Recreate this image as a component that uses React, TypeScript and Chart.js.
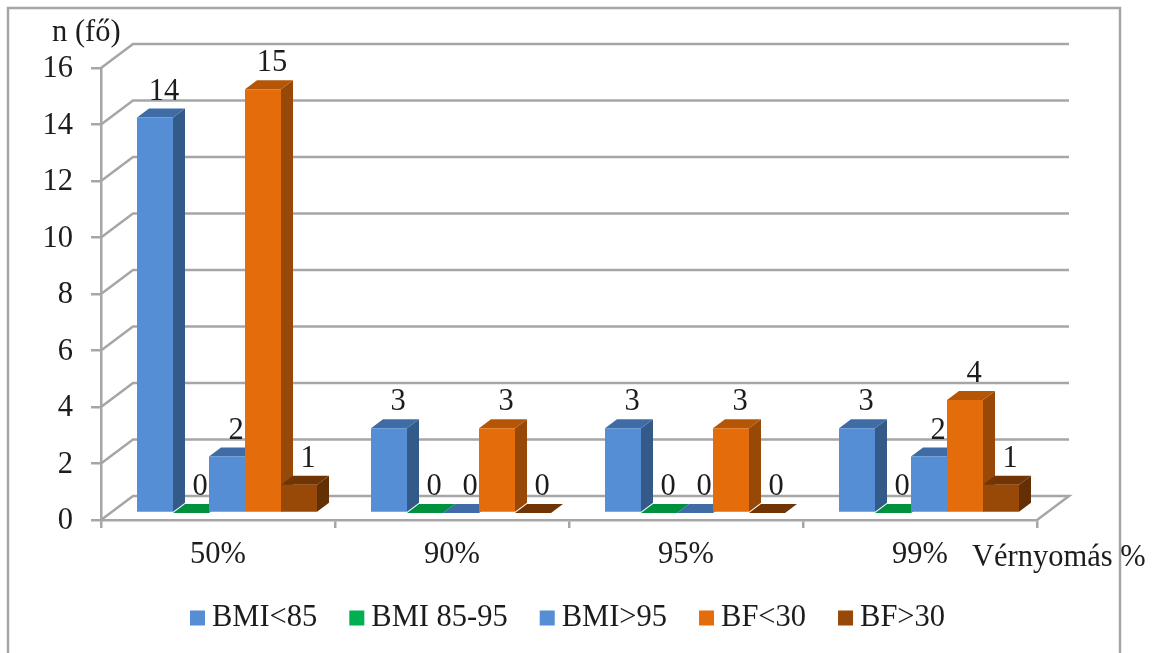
import React, { useEffect, useRef } from "react";
import { Chart, registerables } from "chart.js";

Chart.register(...registerables);

// Series values per blood pressure percentile
const categories = ["50%", "90%", "95%", "99%"];
const bmiUnder85 = [14, 3, 3, 3];
const bmi85to95 = [0, 0, 0, 0];
const bmiOver95 = [2, 0, 0, 2];
const bfUnder30 = [15, 3, 3, 4];
const bfOver30 = [1, 0, 0, 1];
const seriesNames = ["BMI<85", "BMI 85-95", "BMI>95", "BF<30", "BF>30"];
const yAxisTitle = "n (fő)";
const xAxisTitle = "Vérnyomás %";

const FONT_FAMILY = "'Liberation Serif', serif";
const FONT_SIZE = 30.5;
const TEXT_COLOR = "#1c1c1c";
const GRID_COLOR = "#a6a6a6";

// Front, side and top face colours, plus the legend swatch
const blueFaces = { front: "#558ed5", side: "#345a8a", top: "#3f6ca5", key: "#558ed5" };
const greenFaces = { front: "#00b050", side: "#006b30", top: "#00913f", key: "#00b050" };
const orangeFaces = { front: "#e46c0a", side: "#984807", top: "#b55607", key: "#e46c0a" };
const brownFaces = { front: "#984807", side: "#632f04", top: "#713505", key: "#984807" };
const faces = [blueFaces, greenFaces, blueFaces, orangeFaces, brownFaces];

// Projection of the 3D look: wall depth, bar placement in the box, bar depth
const WALL_DX = 32;
const WALL_DY = -24;
const BAR_SHIFT_X = 9;
const BAR_SHIFT_Y = -7;
const BAR_DX = 12;
const BAR_DY = -9;

const polygon = (ctx: CanvasRenderingContext2D, pts: number[][], fill: string) => {
  ctx.beginPath();
  pts.forEach(([x, y], i) => (i ? ctx.lineTo(x, y) : ctx.moveTo(x, y)));
  ctx.closePath();
  ctx.fillStyle = fill;
  ctx.fill();
};

// Page frame plus the back wall and floor behind the bars
const drawBackdrop = (chart: any) => {
  const { ctx, chartArea, scales } = chart;
  const { left, right } = chartArea;
  ctx.save();
  ctx.strokeStyle = GRID_COLOR;
  ctx.lineWidth = 2.5;
  ctx.strokeRect(8, 8, 1112, 700);
  scales.y.ticks.forEach((t: any) => {
    const y = scales.y.getPixelForValue(t.value);
    ctx.beginPath();
    ctx.moveTo(left, y);
    ctx.lineTo(left + WALL_DX, y + WALL_DY);
    ctx.lineTo(right + WALL_DX, y + WALL_DY);
    if (t.value === 0) ctx.lineTo(right, y);
    ctx.stroke();
  });
  ctx.restore();
};

const drawBars = (chart: any) => {
  const { ctx } = chart;
  chart.data.datasets.forEach((_: any, i: number) => {
    const colors = faces[i];
    chart.getDatasetMeta(i).data.forEach((bar: any) => {
      const { x, y, base, width } = bar.getProps(["x", "y", "base", "width"], true);
      const l = x - width / 2;
      const r = x + width / 2;
      ctx.save();
      ctx.translate(BAR_SHIFT_X, BAR_SHIFT_Y);
      polygon(ctx, [[r, y], [r + BAR_DX, y + BAR_DY], [r + BAR_DX, base + BAR_DY], [r, base]], colors.side);
      polygon(ctx, [[l, y], [l + BAR_DX, y + BAR_DY], [r + BAR_DX, y + BAR_DY], [r, y]], colors.top);
      bar.draw(ctx);
      ctx.restore();
    });
  });
};

const drawValueLabels = (chart: any) => {
  const { ctx } = chart;
  ctx.save();
  ctx.font = `${FONT_SIZE}px ${FONT_FAMILY}`;
  ctx.fillStyle = TEXT_COLOR;
  ctx.textAlign = "center";
  ctx.textBaseline = "middle";
  chart.data.datasets.forEach((ds: any, i: number) => {
    chart.getDatasetMeta(i).data.forEach((bar: any, j: number) => {
      const { x, y } = bar.getProps(["x", "y"], true);
      ctx.fillText(String(ds.data[j]), x + BAR_SHIFT_X + 9, y + BAR_SHIFT_Y - 26);
    });
  });
  ctx.restore();
};

const drawAxisTitles = (chart: any) => {
  const { ctx } = chart;
  ctx.save();
  ctx.font = `${FONT_SIZE}px ${FONT_FAMILY}`;
  ctx.fillStyle = TEXT_COLOR;
  ctx.textAlign = "left";
  ctx.textBaseline = "middle";
  ctx.fillText(yAxisTitle, 52, 33);
  ctx.fillText(xAxisTitle, 972, 558);
  ctx.restore();
};

// Square swatches close to their text, spread evenly along one row
const drawKey = (chart: any) => {
  const { ctx } = chart;
  const BOX = 15;
  const TEXT_GAP = 7;
  const ITEM_GAP = 32;
  const Y = 618;
  ctx.save();
  ctx.font = `${FONT_SIZE}px ${FONT_FAMILY}`;
  ctx.textAlign = "left";
  ctx.textBaseline = "middle";
  let x = 190;
  chart.data.datasets.forEach((ds: any, i: number) => {
    ctx.fillStyle = faces[i].key;
    ctx.fillRect(x, Y - BOX / 2, BOX, BOX);
    ctx.fillStyle = TEXT_COLOR;
    ctx.fillText(ds.label, x + BOX + TEXT_GAP, Y);
    x += BOX + TEXT_GAP + ctx.measureText(ds.label).width + ITEM_GAP;
  });
  ctx.restore();
};

const box3dPlugin = {
  id: "box3d",
  beforeDatasetsDraw(chart: any) {
    drawBackdrop(chart);
    drawBars(chart);
    drawValueLabels(chart);
    drawAxisTitles(chart);
    drawKey(chart);
    return false;
  },
};

export default function App() {
  const ref = useRef<HTMLCanvasElement>(null);

  useEffect(() => {
    const values = [bmiUnder85, bmi85to95, bmiOver95, bfUnder30, bfOver30];
    const tickFont = { family: FONT_FAMILY, size: FONT_SIZE };
    const chart = new Chart(ref.current as HTMLCanvasElement, {
      type: "bar",
      data: {
        labels: categories,
        datasets: values.map((data, i) => ({
          label: seriesNames[i],
          data,
          backgroundColor: faces[i].front,
          borderWidth: 0,
          barPercentage: 1,
          categoryPercentage: 180 / 234,
        })),
      },
      options: {
        responsive: false,
        animation: false,
        layout: { padding: { top: 68, right: 117, left: 0, bottom: 0 } },
        plugins: { legend: { display: false }, title: { display: false }, tooltip: { enabled: false } },
        scales: {
          x: {
            afterFit: (s: any) => { s.height = 133; },
            grid: { offset: true, drawOnChartArea: false, drawTicks: true, tickLength: 8, color: GRID_COLOR, lineWidth: 2.5 },
            border: { color: GRID_COLOR, width: 2.5 },
            ticks: { font: tickFont, color: TEXT_COLOR, padding: 9, maxRotation: 0, autoSkip: false },
          },
          y: {
            min: 0,
            max: 16,
            afterFit: (s: any) => { s.width = 101; },
            grid: { drawOnChartArea: false, drawTicks: true, tickLength: 10, color: GRID_COLOR, lineWidth: 2.5 },
            border: { color: GRID_COLOR, width: 2.5 },
            ticks: { stepSize: 2, font: tickFont, color: TEXT_COLOR, padding: 18, labelOffset: 1 },
          },
        },
      },
      plugins: [box3dPlugin],
    } as any);
    return () => chart.destroy();
  }, []);

  return (
    <div style={{ position: "absolute", left: 0, top: 0, width: 1154, height: 653, background: "#fff", overflow: "hidden" }}>
      <canvas ref={ref} width={1154} height={653} style={{ display: "block" }} />
    </div>
  );
}
